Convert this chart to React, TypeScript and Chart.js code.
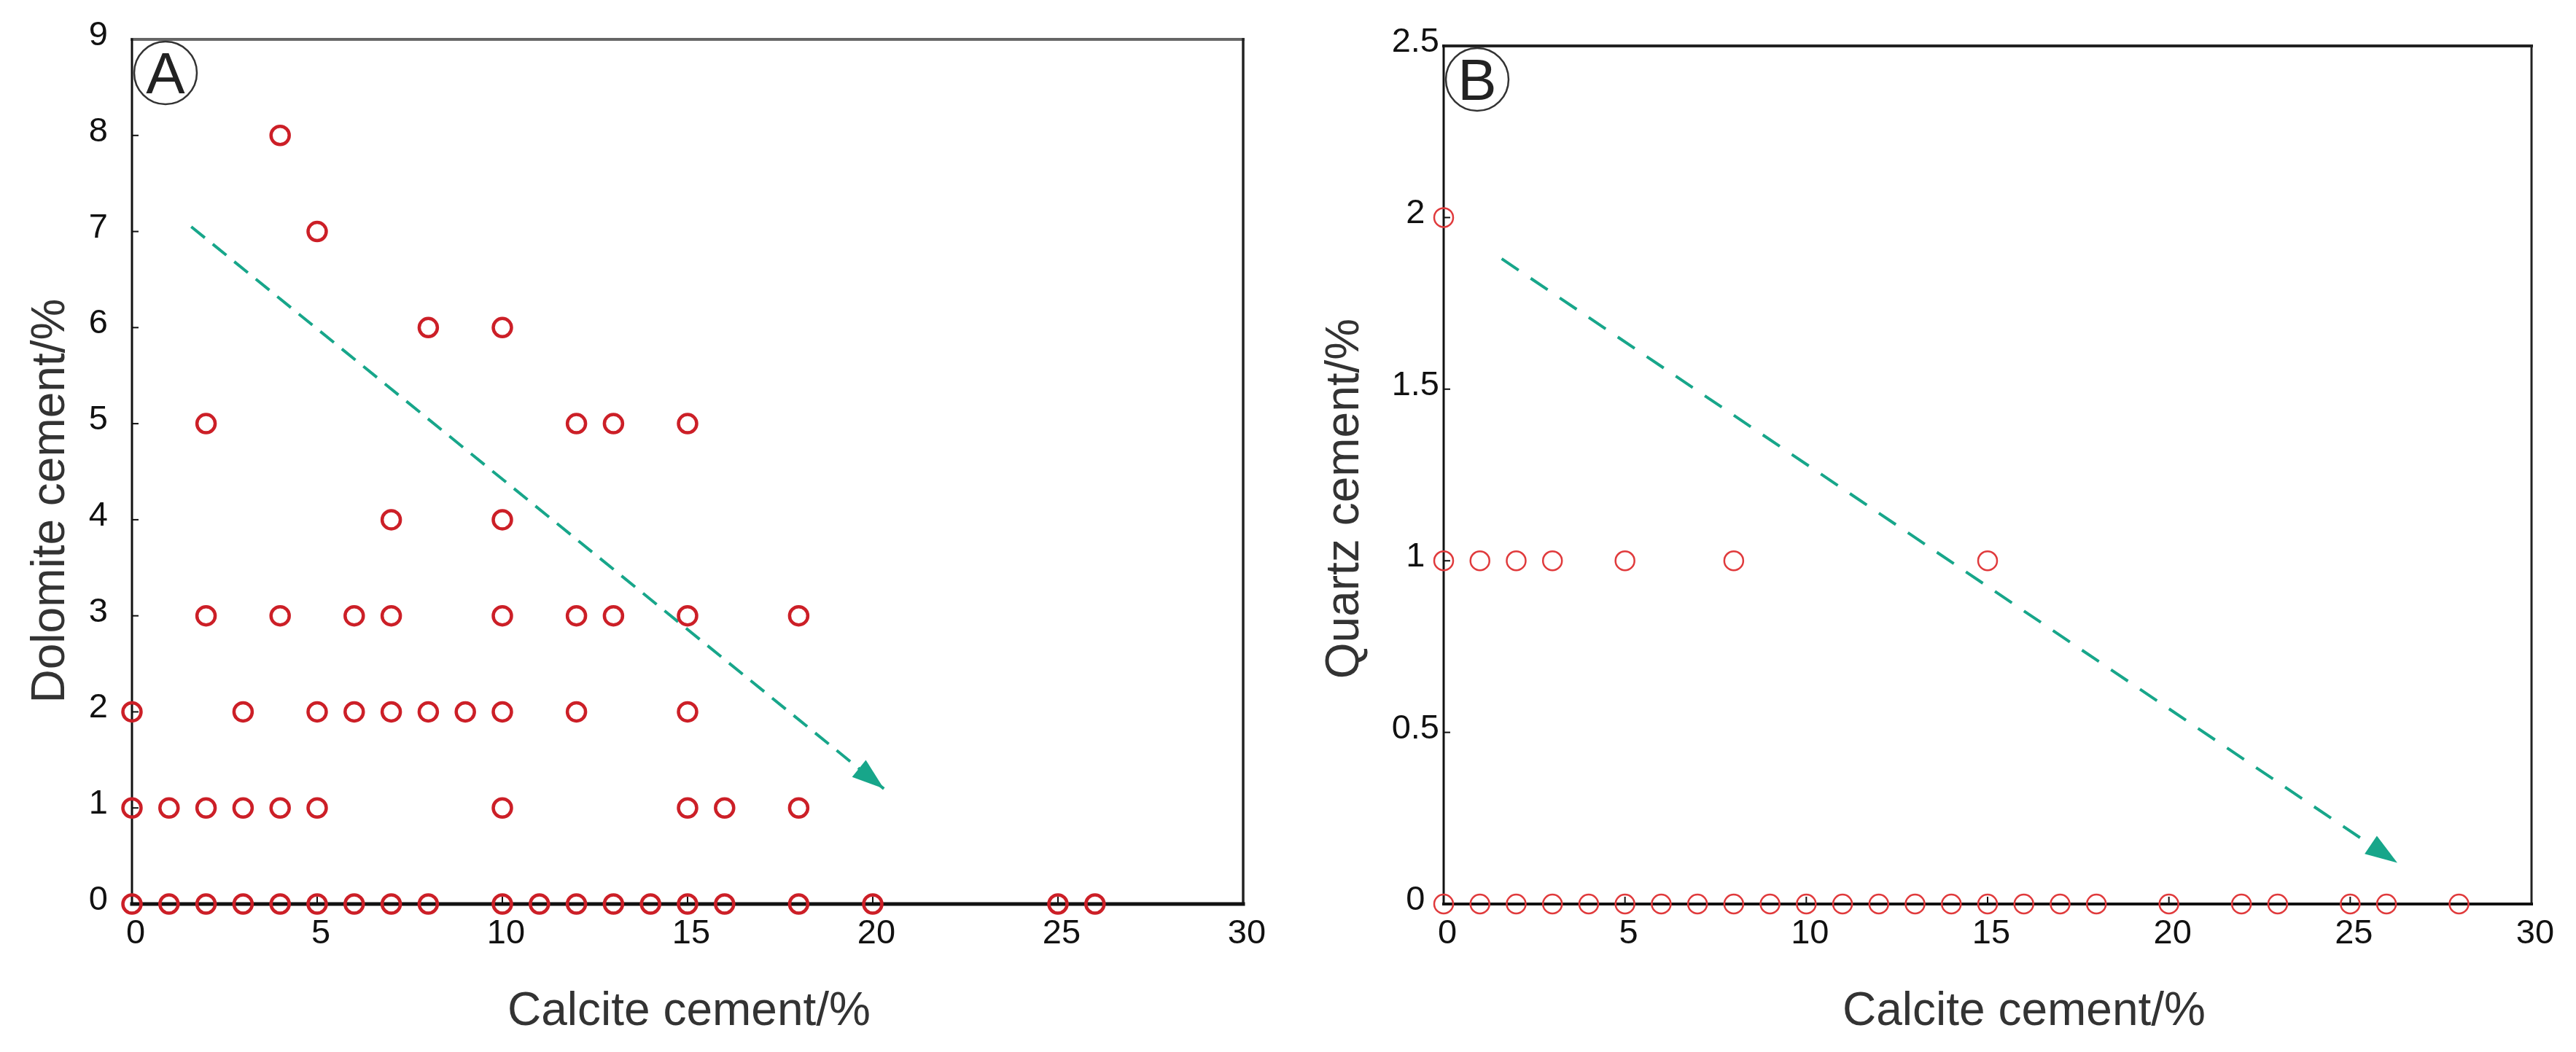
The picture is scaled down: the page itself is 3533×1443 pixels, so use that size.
import { useEffect, useRef } from "react";
import { Chart, registerables } from "chart.js";

Chart.register(...registerables);

const FONT = '"Liberation Sans", Arial, Helvetica, sans-serif';
const H = 1443;

// ---------- shared axis values ----------
const xTickValues = [0, 5, 10, 15, 20, 25, 30];
const yTicksA = [0, 1, 2, 3, 4, 5, 6, 7, 8, 9];
const yTicksB = [0, 0.5, 1, 1.5, 2, 2.5];
const xTitle = "Calcite cement/%";
const yTitleA = "Dolomite cement/%";
const yTitleB = "Quartz cement/%";

// ---------- panel A: calcite vs dolomite ----------
const calciteA = [
  0, 1, 2, 3, 4, 5, 6, 7, 8, 10, 11, 12, 13, 14, 15, 16, 18, 20, 25, 26,
  0, 1, 2, 3, 4, 5, 10, 15, 16, 18,
  0, 3, 5, 6, 7, 8, 9, 10, 12, 15,
  2, 4, 6, 7, 10, 12, 13, 15, 18,
  7, 10,
  2, 12, 13, 15,
  8, 10,
  5,
  4,
];
const dolomiteA = [
  0, 0, 0, 0, 0, 0, 0, 0, 0, 0, 0, 0, 0, 0, 0, 0, 0, 0, 0, 0,
  1, 1, 1, 1, 1, 1, 1, 1, 1, 1,
  2, 2, 2, 2, 2, 2, 2, 2, 2, 2,
  3, 3, 3, 3, 3, 3, 3, 3, 3,
  4, 4,
  5, 5, 5, 5,
  6, 6,
  7,
  8,
];
const arrowAX = [1.6, 20.3];
const arrowAY = [7.05, 1.2];

// ---------- panel B: calcite vs quartz ----------
const calciteB = [
  0, 1, 2, 3, 4, 5, 6, 7, 8, 9, 10, 11, 12, 13, 14, 15, 16, 17, 18, 20, 22, 23, 25, 26, 28,
  0, 1, 2, 3, 5, 8, 15,
  0,
];
const quartzB = [
  0, 0, 0, 0, 0, 0, 0, 0, 0, 0, 0, 0, 0, 0, 0, 0, 0, 0, 0, 0, 0, 0, 0, 0, 0,
  1, 1, 1, 1, 1, 1, 1,
  2,
];
const arrowBX = [1.6, 26.3];
const arrowBY = [1.88, 0.12];

type Line = { w: number; c: string };
type PanelCfg = {
  left: number;
  w: number;
  xs: number[];
  ys: number[];
  ax: number[];
  ay: number[];
  yMax: number;
  yTicks: number[];
  yTitle: string;
  letter: string;
  area: { left: number; right: number; top: number; bottom: number };
  red: string;
  r: number;
  pbw: number;
  dash: number[];
  yPad: number;
  yCross: "near" | "center";
  xTitleX: number;
  yTitleX: number;
  yTitleY: number;
  frame: { top: Line; left: Line; right: Line; bottom: Line };
};

const TEAL = "#17a68a";

function buildConfig(p: PanelCfg): any {
  const decor = {
    id: "decor",
    beforeDatasetsDraw(chart: any) {
      const { ctx, chartArea: a, scales } = chart;
      const xs = scales.x;
      const ys = scales.y;
      ctx.save();
      ctx.strokeStyle = "#111";
      ctx.lineWidth = 2;
      xs.ticks.forEach((t: any) => {
        if (t.value <= xs.min || t.value >= xs.max) return;
        const px = xs.getPixelForValue(t.value);
        ctx.beginPath();
        ctx.moveTo(px, a.bottom);
        ctx.lineTo(px, a.bottom - 10);
        ctx.stroke();
      });
      ys.ticks.forEach((t: any) => {
        if (t.value <= ys.min || t.value >= ys.max) return;
        const py = ys.getPixelForValue(t.value);
        ctx.beginPath();
        ctx.moveTo(a.left, py);
        ctx.lineTo(a.left + 9, py);
        ctx.stroke();
      });
      const f = p.frame;
      ctx.lineCap = "square";
      const seg = (l: Line, x1: number, y1: number, x2: number, y2: number) => {
        ctx.strokeStyle = l.c;
        ctx.lineWidth = l.w;
        ctx.beginPath();
        ctx.moveTo(x1, y1);
        ctx.lineTo(x2, y2);
        ctx.stroke();
      };
      seg(f.top, a.left, a.top, a.right, a.top);
      seg(f.right, a.right, a.top, a.right, a.bottom);
      seg(f.left, a.left, a.top, a.left, a.bottom);
      seg(f.bottom, a.left, a.bottom, a.right, a.bottom);
      ctx.restore();
    },
    afterDatasetsDraw(chart: any) {
      const { ctx, chartArea: a } = chart;
      ctx.save();
      // arrow head
      const meta = chart.getDatasetMeta(1);
      const n = meta.data.length;
      const p1 = meta.data[n - 2];
      const p2 = meta.data[n - 1];
      const ang = Math.atan2(p2.y - p1.y, p2.x - p1.x);
      const L = 44;
      const hw = 15;
      const bx = p2.x - L * Math.cos(ang);
      const by = p2.y - L * Math.sin(ang);
      const nx = -Math.sin(ang);
      const ny = Math.cos(ang);
      ctx.fillStyle = TEAL;
      ctx.beginPath();
      ctx.moveTo(p2.x, p2.y);
      ctx.lineTo(bx + hw * nx, by + hw * ny);
      ctx.lineTo(bx - hw * nx, by - hw * ny);
      ctx.closePath();
      ctx.fill();

      // circled panel letter
      const cx = a.left + 46;
      const cy = a.top + 46;
      ctx.strokeStyle = "#333";
      ctx.lineWidth = 2.5;
      ctx.beginPath();
      ctx.arc(cx, cy, 43, 0, Math.PI * 2);
      ctx.stroke();
      ctx.fillStyle = "#222";
      ctx.font = `80px ${FONT}`;
      ctx.textAlign = "center";
      ctx.textBaseline = "alphabetic";
      ctx.fillText(p.letter, cx, cy + 28);

      // axis titles
      ctx.fillStyle = "#333";
      ctx.font = `64px ${FONT}`;
      ctx.fillText(xTitle, p.xTitleX, 1406);
      ctx.translate(p.yTitleX, p.yTitleY);
      ctx.rotate(-Math.PI / 2);
      ctx.fillText(p.yTitle, 0, 0);
      ctx.restore();
    },
  };

  return {
    type: "scatter",
    data: {
      datasets: [
        {
          data: p.xs.map((x, i) => ({ x, y: p.ys[i] })),
          pointStyle: "circle",
          pointRadius: p.r,
          pointHoverRadius: p.r,
          pointBorderWidth: p.pbw,
          pointBorderColor: p.red,
          pointBackgroundColor: "rgba(0,0,0,0)",
          borderColor: p.red,
          backgroundColor: "rgba(0,0,0,0)",
          clip: false,
        },
        {
          type: "line",
          data: p.ax.map((x, i) => ({ x, y: p.ay[i] })),
          borderColor: TEAL,
          borderWidth: 4,
          borderDash: p.dash,
          pointRadius: 0,
          showLine: true,
          fill: false,
          tension: 0,
          clip: false,
        },
      ],
    },
    options: {
      responsive: false,
      animation: false,
      devicePixelRatio: 1,
      events: [],
      layout: {
        padding: { left: 0, right: p.w - p.area.right, top: p.area.top, bottom: 0 },
      },
      plugins: {
        legend: { display: false },
        tooltip: { enabled: false },
        title: { display: false },
      },
      scales: {
        x: {
          type: "linear",
          position: "bottom",
          min: 0,
          max: 30,
          grid: { display: false },
          border: { display: false },
          afterBuildTicks: (s: any) => {
            s.ticks = xTickValues.map((v) => ({ value: v }));
          },
          afterFit: (s: any) => {
            s.height = H - p.area.bottom;
          },
          ticks: {
            font: { family: FONT, size: 47 },
            color: "#111",
            padding: 5,
            labelOffset: 5,
            maxRotation: 0,
            autoSkip: false,
            callback: (v: any) => String(v),
          },
        },
        y: {
          type: "linear",
          position: "left",
          min: 0,
          max: p.yMax,
          grid: { display: false },
          border: { display: false },
          afterBuildTicks: (s: any) => {
            s.ticks = p.yTicks.map((v) => ({ value: v }));
          },
          afterFit: (s: any) => {
            s.width = p.area.left;
          },
          ticks: {
            font: { family: FONT, size: 47 },
            color: "#111",
            padding: p.yPad,
            crossAlign: p.yCross,
            labelOffset: -5,
            autoSkip: false,
            callback: (v: any) => String(v),
          },
        },
      },
    },
    plugins: [decor],
  };
}

const panelA: PanelCfg = {
  left: 0,
  w: 1766,
  xs: calciteA,
  ys: dolomiteA,
  ax: arrowAX,
  ay: arrowAY,
  yMax: 9,
  yTicks: yTicksA,
  yTitle: yTitleA,
  letter: "A",
  area: { left: 181, right: 1705, top: 54, bottom: 1240 },
  red: "#cc1f27",
  r: 12.5,
  pbw: 4.5,
  dash: [24, 14],
  yPad: 25,
  yCross: "near",
  xTitleX: 945,
  yTitleX: 88,
  yTitleY: 687,
  frame: {
    top: { w: 4, c: "#666" },
    left: { w: 3, c: "#111" },
    right: { w: 3.5, c: "#222" },
    bottom: { w: 5, c: "#111" },
  },
};

const panelB: PanelCfg = {
  left: 1766,
  w: 1767,
  xs: calciteB,
  ys: quartzB,
  ax: arrowBX,
  ay: arrowBY,
  yMax: 2.5,
  yTicks: yTicksB,
  yTitle: yTitleB,
  letter: "B",
  area: { left: 214, right: 1706, top: 63, bottom: 1240 },
  red: "#e03a3c",
  r: 13,
  pbw: 2.5,
  dash: [28, 20],
  yPad: -2,
  yCross: "center",
  xTitleX: 1010,
  yTitleX: 97,
  yTitleY: 684,
  frame: {
    top: { w: 4, c: "#222" },
    left: { w: 3, c: "#111" },
    right: { w: 3, c: "#222" },
    bottom: { w: 4, c: "#111" },
  },
};

function Panel({ cfg }: { cfg: PanelCfg }) {
  const ref = useRef<HTMLCanvasElement>(null);
  useEffect(() => {
    const chart = new Chart(ref.current as HTMLCanvasElement, buildConfig(cfg));
    return () => chart.destroy();
  }, [cfg]);
  return (
    <canvas
      ref={ref}
      width={cfg.w}
      height={H}
      style={{ position: "absolute", left: cfg.left, top: 0, width: cfg.w, height: H }}
    />
  );
}

export default function App() {
  return (
    <div
      style={{
        position: "fixed",
        left: 0,
        top: 0,
        width: 3533,
        height: H,
        background: "#fff",
        overflow: "hidden",
      }}
    >
      <Panel cfg={panelA} />
      <Panel cfg={panelB} />
    </div>
  );
}
